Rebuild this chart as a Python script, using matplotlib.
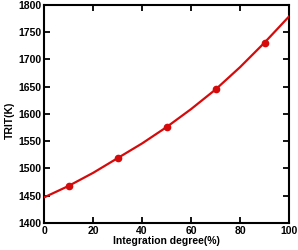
import matplotlib
matplotlib.use("Agg")
import matplotlib.pyplot as plt

# data
x_points = [10, 30, 50, 70, 90]
y_points = [1468, 1519, 1576, 1645, 1731]
x_curve = [0, 10, 20, 30, 40, 50, 60, 70, 80, 90, 100]
y_curve = [1447, 1468, 1492, 1519, 1546, 1576, 1609, 1645, 1686, 1731, 1779]
x_ticks = [0, 20, 40, 60, 80, 100]
y_ticks = [1400, 1450, 1500, 1550, 1600, 1650, 1700, 1750, 1800]

plt.rcParams['font.family'] = ['Liberation Sans', 'DejaVu Sans']
plt.rcParams['font.weight'] = 'bold'

fig = plt.figure(figsize=(2.98, 2.5), dpi=100)
ax = fig.add_axes([0.148, 0.108, 0.822, 0.872])
red = '#d60a0a'
ax.plot(x_curve, y_curve, color=red, lw=1.6, zorder=3)
ax.plot(x_points, y_points, 'o', color=red, ms=4.5, zorder=4)

ax.set_xlim(0, 100)
ax.set_ylim(1400, 1800)
ax.set_xticks(x_ticks)
ax.set_yticks(y_ticks)
ax.tick_params(direction='in', length=4, width=1.3, top=True, right=True,
               labelsize=7.5, pad=2)
for lab in ax.get_xticklabels() + ax.get_yticklabels():
    lab.set_fontweight('bold')
for s in ax.spines.values():
    s.set_linewidth(1.5)
ax.set_xlabel('Integration degree(%)', fontsize=7.5, fontweight='bold', labelpad=0)
ax.set_ylabel('TRIT(K)', fontsize=7.5, fontweight='bold')
ax.yaxis.set_label_coords(-0.12, 0.47)
fig.savefig('out.png', dpi=100)
